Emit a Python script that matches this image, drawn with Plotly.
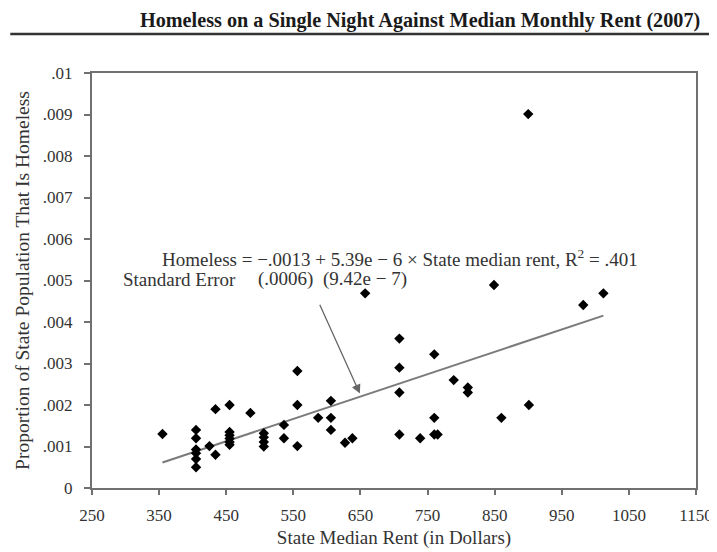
import plotly.graph_objects as go

# State median rent (dollars)
rent = [355,
        405, 405, 405, 405, 405, 405,
        425, 434, 434,
        455, 455, 455, 455, 455, 455,
        486,
        506, 506, 506, 506,
        536, 536,
        556, 556, 556,
        587, 606, 606, 606, 627, 638, 657,
        708, 708, 708, 708,
        739, 760, 760, 760, 765,
        789, 810, 810, 849, 860, 901, 900, 982, 1012]

# Proportion of state population that is homeless
homeless = [0.0013,
            0.0014, 0.0012, 0.00093, 0.00084, 0.0007, 0.0005,
            0.00101, 0.0008, 0.0019,
            0.0020, 0.00135, 0.00127, 0.00119, 0.00111, 0.00104,
            0.00181,
            0.00132, 0.00122, 0.00111, 0.0010,
            0.00152, 0.0012,
            0.0020, 0.00101, 0.00282,
            0.00169, 0.0021, 0.00169, 0.0014, 0.00109, 0.0012, 0.00469,
            0.0036, 0.0029, 0.0023, 0.00129,
            0.0012, 0.00322, 0.00169, 0.00129, 0.00129,
            0.0026, 0.00242, 0.0023, 0.00489, 0.00169, 0.0020, 0.00901, 0.00441, 0.00469]

intercept = -0.0013
slope = 5.39e-6

x_ticks = [250, 350, 450, 550, 650, 750, 850, 950, 1050, 1150]
y_ticks = [0, 0.001, 0.002, 0.003, 0.004, 0.005, 0.006, 0.007, 0.008, 0.009, 0.01]
y_tick_labels = ["0", ".001", ".002", ".003", ".004", ".005", ".006", ".007", ".008", ".009", ".01"]

fit_x = [min(rent), max(rent)]
fit_y = [intercept + slope * v for v in fit_x]

FONT = "Liberation Serif"
AX = "#707070"
TXT = "#333333"

# page body has an 8px margin; compensate so the plot lands where the reference has it
OFF = 8
L, R, T, B = 92 - OFF, 717 - 698 + OFF, 73 - OFF, 552 - 488 + OFF
PW, PH = 717 - L - R, 552 - T - B

fig = go.Figure()
fig.add_trace(go.Scatter(x=fit_x, y=fit_y, mode="lines",
                         line=dict(color="#7a7a7a", width=2), hoverinfo="skip"))
fig.add_trace(go.Scatter(x=rent, y=homeless, mode="markers",
                         marker=dict(symbol="diamond", size=8, color="black")))

arrow_x = 651
fig.add_annotation(x=arrow_x, y=intercept + slope * arrow_x, xref="x", yref="y",
                   ax=-42, ay=-93, text="",
                   showarrow=True, arrowhead=2, arrowsize=1.4, arrowwidth=1.3,
                   arrowcolor="#666666", standoff=3)

ANN = dict(family=FONT, size=19, color=TXT)
fig.add_annotation(x=(160 - 92) / PW, y=(488 - 258) / PH, xref="paper", yref="paper",
                   xanchor="left", yanchor="middle",
                   text="Homeless = \u2212.0013 + 5.39e \u2212 6 \u00d7 State median rent, R<sup>2</sup> = .401",
                   showarrow=False, font=ANN)
fig.add_annotation(x=(121 - 92) / PW, y=(488 - 279) / PH, xref="paper", yref="paper",
                   xanchor="left", yanchor="middle",
                   text="Standard Error", showarrow=False, font=ANN)
fig.add_annotation(x=(257 - 92) / PW, y=(488 - 279) / PH, xref="paper", yref="paper",
                   xanchor="left", yanchor="middle",
                   text="(.0006)  (9.42e \u2212 7)", showarrow=False, font=ANN)

# title and rule under it
fig.add_annotation(x=(139 - 92) / PW, y=(488 - 20) / PH, xref="paper", yref="paper",
                   xanchor="left", yanchor="middle", borderpad=0,
                   text="<b>Homeless on a Single Night Against Median Monthly Rent (2007)</b>",
                   showarrow=False, font=dict(family=FONT, size=20.2, color="#1a1a1a"))
fig.add_shape(type="line", xref="paper", yref="paper",
              x0=(10 - 92) / PW, x1=(725 - 92) / PW,
              y0=(488 - 34) / PH, y1=(488 - 34) / PH,
              line=dict(color="#333333", width=2.5))

fig.update_layout(
    width=717, height=552,
    margin=dict(l=L, r=R, t=T, b=B),
    paper_bgcolor="white", plot_bgcolor="white",
    showlegend=False,
    font=dict(family=FONT, color=TXT, size=17),
    xaxis=dict(range=[250, 1150], tickvals=x_ticks, ticktext=[str(v) for v in x_ticks],
               showgrid=False, zeroline=False, showline=True, linecolor=AX, linewidth=2,
               mirror=True, ticks="outside", ticklen=5, tickcolor=AX, tickwidth=1.5,
               ticklabelstandoff=6,
               tickfont=dict(family=FONT, size=17, color=TXT),
               title=dict(text="State Median Rent (in Dollars)", standoff=6,
                          font=dict(family=FONT, size=19, color=TXT))),
    yaxis=dict(range=[0, 0.01], tickvals=y_ticks, ticktext=y_tick_labels,
               showgrid=False, zeroline=False, showline=True, linecolor=AX, linewidth=2,
               mirror=True, ticks="outside", ticklen=6, tickcolor=AX, tickwidth=1.5,
               ticklabelstandoff=8,
               tickfont=dict(family=FONT, size=17, color=TXT),
               title=dict(text="Proportion of State Population That Is Homeless", standoff=8,
                          font=dict(family=FONT, size=19.5, color=TXT))),
)

fig.write_html("out.html")
